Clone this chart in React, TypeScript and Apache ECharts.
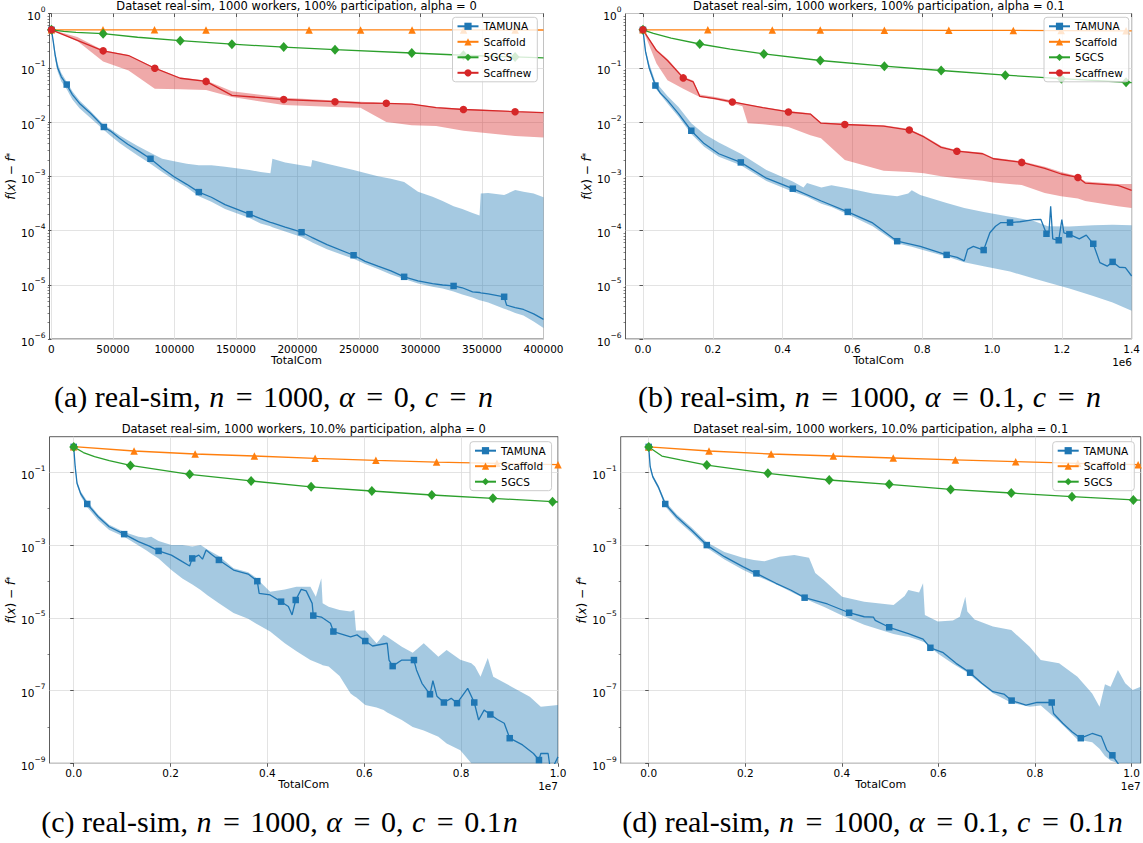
import React, { useEffect, useRef } from 'react';
import * as echarts from 'echarts';

// ---------------- Panel (a): alpha = 0, 100% participation ----------------
const aTamX = [0, 1500, 3000, 5000, 8000, 12400, 17000, 22800, 31700, 42600, 48000, 55300, 62000, 70100, 80500, 90000, 99700, 110000, 119800, 130000, 141100, 161000, 170000, 178000, 179600, 190000, 203300, 211000, 212000, 224000, 245600, 255000, 265400, 276000, 286700, 298000, 309800, 318000, 326900, 334000, 342300, 348000, 349000, 355000, 368000, 370000, 377000, 383700, 392000, 400000];
const aTamY = [5e-1, 3e-1, 1.7e-1, 1e-1, 6.8e-2, 4.9e-2, 3.2e-2, 2.2e-2, 1.45e-2, 8.1e-3, 6.8e-3, 5e-3, 3.9e-3, 3e-3, 2.1e-3, 1.4e-3, 9.8e-4, 7.1e-4, 5.1e-4, 4.1e-4, 3e-4, 2e-4, 1.66e-4, 1.41e-4, 1.38e-4, 1.15e-4, 9.3e-5, 7.6e-5, 7.4e-5, 5.5e-5, 3.5e-5, 2.7e-5, 2.2e-5, 1.8e-5, 1.4e-5, 1.18e-5, 1.05e-5, 9.9e-6, 9.5e-6, 8.8e-6, 7.4e-6, 7.2e-6, 7.1e-6, 6.8e-6, 6e-6, 4.2e-6, 3.8e-6, 3.5e-6, 2.9e-6, 2.3e-6];
const aTamMarks = [0, 5, 9, 14, 18, 21, 26, 30, 34, 38, 44];
const aTamLo = [5e-1, 2.6e-1, 1.4e-1, 8.5e-2, 5.6e-2, 4e-2, 2.6e-2, 1.8e-2, 1.18e-2, 7.1e-3, 5.6e-3, 4.1e-3, 3.2e-3, 2.4e-3, 1.7e-3, 1.2e-3, 8.5e-4, 6.2e-4, 4.3e-4, 3.4e-4, 2.5e-4, 1.7e-4, 1.35e-4, 1.2e-4, 1.15e-4, 9.55e-5, 7.6e-5, 6.2e-5, 6e-5, 4.5e-5, 3e-5, 2.4e-5, 1.95e-5, 1.55e-5, 1.28e-5, 1.05e-5, 9.2e-6, 8.5e-6, 7.5e-6, 6.6e-6, 5.8e-6, 5.2e-6, 5.1e-6, 4.7e-6, 3.6e-6, 3.5e-6, 3e-6, 2.7e-6, 2.1e-6, 1.6e-6];
const aTamHi = [5e-1, 3.3e-1, 2e-1, 1.2e-1, 8e-2, 5.5e-2, 3.7e-2, 2.5e-2, 1.6e-2, 8.8e-3, 7.4e-3, 5.7e-3, 4.6e-3, 3.6e-3, 2.7e-3, 2.1e-3, 1.9e-3, 1.7e-3, 1.6e-3, 1.6e-3, 1.5e-3, 1.3e-3, 1.2e-3, 1.13e-3, 2.1e-3, 1.8e-3, 1.6e-3, 1.5e-3, 2e-3, 1.7e-3, 1.3e-3, 1.15e-3, 1e-3, 9e-4, 7.8e-4, 5.2e-4, 4.2e-4, 3.5e-4, 2.8e-4, 2.5e-4, 2.1e-4, 1.9e-4, 4.8e-4, 4.9e-4, 4.5e-4, 4.7e-4, 5.6e-4, 5.2e-4, 4.8e-4, 4.1e-4];
const aScfX = [0, 41880, 83760, 125640, 167520, 209400, 251280, 293160, 335040, 376920, 400000];
const aScfY = [5e-1, 5e-1, 5e-1, 4.99e-1, 4.99e-1, 4.98e-1, 4.98e-1, 4.97e-1, 4.97e-1, 4.96e-1, 4.96e-1];
const aScfMarks = [0, 1, 2, 3, 5, 6, 7, 8, 9];
const aGcsX = [0, 10000, 20000, 42000, 70000, 104700, 146700, 188800, 230500, 292900, 334900, 376900, 400000];
const aGcsY = [5e-1, 4.7e-1, 4.5e-1, 4.25e-1, 3.65e-1, 3.15e-1, 2.72e-1, 2.4e-1, 2.15e-1, 1.87e-1, 1.7e-1, 1.58e-1, 1.52e-1];
const aGcsMarks = [0, 3, 5, 6, 7, 8, 9, 10, 11];
const aSnX = [0, 21000, 42000, 62700, 84000, 104700, 125700, 146700, 188800, 230500, 251200, 272200, 292900, 312700, 334900, 376900, 400000];
const aSnY = [5e-1, 3.2e-1, 2.05e-1, 1.68e-1, 9.8e-2, 6.4e-2, 5.6e-2, 3.1e-2, 2.6e-2, 2.37e-2, 2.24e-2, 2.21e-2, 2.14e-2, 1.84e-2, 1.7e-2, 1.55e-2, 1.49e-2];
const aSnMarks = [0, 2, 4, 6, 8, 9, 11, 14, 15];
const aSnLo = [5e-1, 3.1e-1, 1.3e-1, 8.9e-2, 4.1e-2, 4e-2, 3.9e-2, 2.9e-2, 2.05e-2, 1.9e-2, 1.84e-2, 1e-2, 8.7e-3, 8.4e-3, 6.9e-3, 5.5e-3, 5.2e-3];
const aSnHi = [5e-1, 3.7e-1, 2.1e-1, 1.72e-1, 1e-1, 6.6e-2, 5.8e-2, 3.7e-2, 2.8e-2, 2.5e-2, 2.35e-2, 2.25e-2, 2.18e-2, 1.9e-2, 1.75e-2, 1.58e-2, 1.52e-2];

// ---------------- Panel (b): alpha = 0.1, 100% participation ----------------
const bTamX = [0, 7300, 17800, 35700, 50000, 70300, 101800, 138500, 175300, 217300, 280300, 353700, 429300, 511100, 586700, 658000, 728300, 794400, 870000, 900000, 920400, 930000, 946600, 976000, 993800, 1010000, 1025300, 1051600, 1080000, 1119800, 1140000, 1156000, 1163000, 1168000, 1174000, 1191000, 1200000, 1206000, 1221600, 1250000, 1270000, 1290000, 1309000, 1330000, 1345500, 1365000, 1382000, 1400000];
const bTamY = [5e-1, 2e-1, 1e-1, 4.7e-2, 3.4e-2, 2.5e-2, 1.43e-2, 6.9e-3, 4e-3, 2.6e-3, 1.8e-3, 9.2e-4, 5.9e-4, 3.5e-4, 2.2e-4, 1.38e-4, 6.35e-5, 5.1e-5, 3.55e-5, 3.2e-5, 2.75e-5, 4.5e-5, 5.1e-5, 4.36e-5, 9.1e-5, 1.2e-4, 1.4e-4, 1.4e-4, 1.45e-4, 1.58e-4, 1.6e-4, 8.7e-5, 9e-5, 2.8e-4, 7e-5, 6.6e-5, 1.59e-4, 9e-5, 8.5e-5, 7e-5, 8.2e-5, 5.69e-5, 2.56e-5, 2.2e-5, 2.64e-5, 2.1e-5, 2.07e-5, 1.45e-5];
const bTamMarks = [0, 3, 7, 10, 12, 14, 16, 18, 23, 27, 31, 35, 38, 41, 44];
const bTamBandX = [0, 7300, 17800, 35700, 70300, 101800, 138500, 175300, 217300, 280300, 353700, 429300, 460000, 470000, 511100, 540000, 586700, 658000, 728300, 760000, 770000, 794400, 870000, 920400, 976000, 1051600, 1119800, 1160000, 1221600, 1290000, 1345500, 1400000];
const bTamHi = [5e-1, 2.2e-1, 1.2e-1, 5.5e-2, 3e-2, 1.9e-2, 9.5e-3, 6e-3, 4.2e-3, 2.6e-3, 1.3e-3, 8e-4, 6.2e-4, 7.5e-4, 6.2e-4, 6.8e-4, 6e-4, 4.8e-4, 4.3e-4, 4.8e-4, 5.5e-4, 4.5e-4, 3.2e-4, 2.6e-4, 2.2e-4, 1.8e-4, 1.5e-4, 1.2e-4, 1.18e-4, 1.25e-4, 1.28e-4, 1.25e-4];
const bTamLo = [5e-1, 1.8e-1, 9e-2, 4.2e-2, 2.2e-2, 1.25e-2, 6e-3, 3.5e-3, 2.3e-3, 1.6e-3, 8.2e-4, 5.2e-4, 4.4e-4, 4.2e-4, 3.1e-4, 2.7e-4, 2e-4, 1.2e-4, 5.8e-5, 5.2e-5, 5e-5, 4.5e-5, 3.3e-5, 2.6e-5, 2.2e-5, 1.75e-5, 1.3e-5, 1.1e-5, 8.5e-6, 6.2e-6, 4.7e-6, 3.3e-6];
const bScfX = [0, 185800, 370500, 508000, 691600, 876300, 1061000, 1198000, 1384000, 1400000];
const bScfY = [5e-1, 5e-1, 4.98e-1, 4.96e-1, 4.93e-1, 4.9e-1, 4.87e-1, 4.84e-1, 4.8e-1, 4.8e-1];
const bScfMarks = [0, 1, 2, 3, 4, 5, 6, 7, 8];
const bGcsX = [0, 30000, 80800, 162700, 250000, 346300, 508000, 691600, 854300, 1038000, 1198600, 1384000, 1400000];
const bGcsY = [5e-1, 4.3e-1, 3.53e-1, 2.74e-1, 2.2e-1, 1.8e-1, 1.36e-1, 1.07e-1, 8.9e-2, 7.3e-2, 6.3e-2, 5.4e-2, 5.3e-2];
const bGcsMarks = [0, 3, 5, 6, 7, 8, 9, 10, 11];
const bSnX = [0, 38800, 70300, 115400, 143800, 162700, 206800, 256000, 343200, 416700, 479600, 510000, 578300, 689500, 763000, 805000, 854300, 899400, 972900, 1004000, 1085000, 1151000, 1198000, 1246000, 1267000, 1361000, 1400000];
const bSnY = [5e-1, 2.07e-1, 1.36e-1, 6.5e-2, 5.5e-2, 2.97e-2, 2.7e-2, 2.34e-2, 1.84e-2, 1.53e-2, 1.4e-2, 9.5e-3, 9e-3, 8.4e-3, 7.1e-3, 5.3e-3, 3.4e-3, 2.9e-3, 2.6e-3, 2.1e-3, 1.8e-3, 1.4e-3, 1.1e-3, 9.5e-4, 7.5e-4, 6.8e-4, 5.5e-4];
const bSnMarks = [0, 3, 7, 9, 12, 14, 17, 20, 23];
const bSnBandX = [0, 38800, 70300, 115400, 143800, 162700, 206800, 256000, 285000, 300000, 343200, 416700, 479600, 510000, 578300, 689500, 763000, 805000, 854300, 899400, 972900, 1004000, 1085000, 1151000, 1198000, 1246000, 1267000, 1361000, 1400000];
const bSnLo = [5e-1, 1.2e-1, 5.9e-2, 4.1e-2, 3.3e-2, 2.9e-2, 2.6e-2, 2.2e-2, 1.95e-2, 9.5e-3, 9.1e-3, 8.1e-3, 5.7e-3, 5e-3, 2e-3, 1.26e-3, 1.2e-3, 1.13e-3, 1e-3, 9.2e-4, 8.3e-4, 7.7e-4, 6.9e-4, 4.9e-4, 4.3e-4, 3.9e-4, 3.5e-4, 2.8e-4, 2.6e-4];
const bSnHi = [5e-1, 2.2e-1, 1.45e-1, 6.8e-2, 5.8e-2, 3.2e-2, 2.9e-2, 2.5e-2, 2.2e-2, 2.1e-2, 1.9e-2, 1.6e-2, 1.45e-2, 9.8e-3, 9.3e-3, 8.7e-3, 7.4e-3, 5.6e-3, 3.6e-3, 3e-3, 2.7e-3, 2.2e-3, 1.9e-3, 1.5e-3, 1.2e-3, 1e-3, 8e-4, 7.2e-4, 7.2e-4];

// ---------------- Panel (c): alpha = 0, 10% participation ----------------
const cTamX = [0, 30200, 68000, 143500, 279500, 506000, 732800, 1042000, 1337000, 1563000, 1752000, 2017000, 2243000, 2394000, 2447000, 2583000, 2659000, 2734000, 2847000, 2998000, 3300000, 3602000, 3791000, 3829000, 4056000, 4282000, 4433000, 4509000, 4584000, 4698000, 4800000, 4924000, 4947000, 5113000, 5302000, 5362000, 5717000, 5850000, 6020000, 6171000, 6473000, 6511000, 6586000, 6775000, 7025000, 7078000, 7191000, 7357000, 7417000, 7500000, 7644000, 7795000, 7916000, 8135000, 8271000, 8361000, 8474000, 8603000, 8750000, 8890000, 9003000, 9268000, 9494000, 9607000, 9645000, 9796000, 9834000, 9900000, 10000000];
const cTamY = [5e-1, 1.43e-1, 5e-2, 2.6e-2, 1.35e-2, 6e-3, 3.2e-3, 2e-3, 1.24e-3, 9.4e-4, 6.9e-4, 5.3e-4, 3.5e-4, 2.66e-4, 4.3e-4, 5.3e-4, 4.1e-4, 7.3e-4, 5.5e-4, 3.9e-4, 2.06e-4, 1.6e-4, 1.02e-4, 4.71e-5, 4.26e-5, 2.78e-5, 2.04e-5, 1.2e-5, 3.09e-5, 6.07e-5, 5.5e-5, 2.5e-5, 1.15e-5, 1.05e-5, 7.1e-6, 4.2e-6, 3e-6, 3.4e-6, 2.3e-6, 1.68e-6, 2e-6, 6.9e-7, 4.7e-7, 6.9e-7, 6.9e-7, 3.7e-7, 1.58e-7, 7.9e-8, 1.86e-7, 7e-8, 4.7e-8, 6.1e-8, 4.5e-8, 1.15e-7, 4.7e-8, 1.55e-8, 2.9e-8, 2.2e-8, 1.6e-8, 1.26e-8, 4.9e-9, 3.2e-9, 1.86e-9, 1.23e-9, 1.86e-9, 1.86e-9, 8e-10, 8e-10, 1.5e-9];
const cTamMarks = [0, 4, 7, 10, 14, 19, 22, 25, 28, 32, 35, 38, 42, 44, 47, 50, 52, 54, 57, 60, 63];
const cTamBandX = [0, 30200, 68000, 143500, 279500, 506000, 732800, 1042000, 1337000, 1488000, 1600000, 1752000, 2017000, 2243000, 2450000, 2621000, 2760000, 2998000, 3300000, 3602000, 3753000, 4056000, 4358000, 4600000, 4887000, 5000000, 5113000, 5140000, 5264000, 5490000, 5717000, 5793000, 5830000, 6020000, 6254000, 6397000, 6473000, 6775000, 7000000, 7228000, 7530000, 7700000, 7983000, 8210000, 8286000, 8400000, 8550000, 8663000, 9040000, 9418000, 9645000, 10000000];
const cTamHi = [5e-1, 1.6e-1, 5.8e-2, 3e-2, 1.6e-2, 6.8e-3, 3.6e-3, 2.3e-3, 1.7e-3, 1.6e-3, 1.7e-3, 1.3e-3, 1e-3, 1e-3, 9.1e-4, 1e-3, 7.6e-4, 5e-4, 2.3e-4, 1.8e-4, 1.3e-4, 5.25e-5, 6e-5, 7.2e-5, 7.2e-5, 3.8e-5, 1.23e-4, 2.5e-5, 2e-5, 1.63e-5, 1.5e-5, 1.63e-5, 4.5e-6, 4.5e-6, 2e-6, 3.4e-6, 3e-6, 1.6e-6, 1.1e-6, 2e-6, 8.5e-7, 1.3e-6, 7e-7, 5.6e-7, 4.6e-7, 2.4e-7, 7.9e-7, 2.4e-7, 1.28e-7, 6.8e-8, 3.6e-8, 4e-8];
const cTamLo = [5e-1, 1.2e-1, 4.4e-2, 2.2e-2, 1.1e-2, 4.8e-3, 2.6e-3, 1.7e-3, 9.8e-4, 7.3e-4, 5.8e-4, 4.3e-4, 2.06e-4, 1.2e-4, 8.2e-5, 5.82e-5, 4.2e-5, 2.5e-5, 1.35e-5, 9.5e-6, 7.1e-6, 4.2e-6, 2e-6, 1.2e-6, 6.9e-7, 6e-7, 5.2e-7, 5e-7, 4.6e-7, 2.5e-7, 8.3e-8, 7e-8, 6.5e-8, 4e-8, 3.4e-8, 2.9e-8, 2.5e-8, 1.55e-8, 1e-8, 8e-9, 5.4e-9, 3.5e-9, 2.3e-9, 1e-9, 5e-10, 1e-10, 1e-10, 1e-10, 1e-10, 1e-10, 1e-10, 1e-10];
const cScfX = [0, 1246000, 2507000, 3731000, 4985000, 6239000, 7492000, 8739000, 10000000];
const cScfY = [5.08e-1, 3.86e-1, 3.19e-1, 2.81e-1, 2.43e-1, 2.14e-1, 1.92e-1, 1.77e-1, 1.62e-1];
const cScfMarks = [0, 1, 2, 3, 4, 5, 6, 7, 8];
const cGcsX = [0, 200000, 430000, 733000, 1171000, 2394000, 3663000, 4902000, 6156000, 7394000, 8656000, 9887000, 10000000];
const cGcsY = [5e-1, 3.5e-1, 2.7e-1, 2.09e-1, 1.55e-1, 8.8e-2, 5.8e-2, 4e-2, 3.07e-2, 2.38e-2, 1.93e-2, 1.56e-2, 1.53e-2];
const cGcsMarks = [0, 4, 5, 6, 7, 8, 9, 10, 11];

// ---------------- Panel (d): alpha = 0.1, 10% participation ----------------
const dTamX = [0, 30500, 83800, 198000, 342700, 578800, 883500, 1203000, 1569000, 1950000, 2231000, 2635000, 2940000, 3229000, 3701000, 4151000, 4463000, 4653000, 4692000, 4981000, 5377000, 5682000, 5834000, 6100000, 6367000, 6657000, 6900000, 7129000, 7357000, 7517000, 7814000, 8043000, 8347000, 8385000, 8576000, 8766000, 8949000, 9185000, 9375000, 9490000, 9604000, 9718000, 9870000, 10190000];
const dTamY = [5e-1, 1.43e-1, 7.6e-2, 4e-2, 1.35e-2, 6e-3, 2.6e-3, 1e-3, 4.8e-4, 2.55e-4, 1.67e-4, 8.9e-5, 5.82e-5, 3.58e-5, 2.4e-5, 1.38e-5, 1.07e-5, 1.05e-5, 8.5e-6, 5.5e-6, 3.7e-6, 2.6e-6, 1.5e-6, 1.1e-6, 5.6e-7, 3.1e-7, 1.58e-7, 9.3e-8, 8e-8, 5.3e-8, 4e-8, 4.7e-8, 4.7e-8, 2.35e-8, 1.26e-8, 7.4e-9, 4.9e-9, 6.6e-9, 5.5e-9, 2.3e-9, 1.66e-9, 1e-9, 4.3e-10, 2e-10];
const dTamMarks = [0, 4, 7, 10, 13, 15, 19, 22, 25, 29, 32, 36, 40];
const dTamBandX = [0, 30500, 83800, 198000, 342700, 578800, 883500, 1203000, 1569000, 1950000, 2178000, 2400000, 2711000, 3016000, 3321000, 3450000, 3625000, 4006000, 4463000, 5072000, 5300000, 5377000, 5600000, 5682000, 5720000, 5987000, 6300000, 6444000, 6558000, 6600000, 6748000, 7129000, 7510000, 7891000, 8120000, 8500000, 8880000, 9185000, 9337000, 9450000, 9566000, 9718000, 9870000, 10023000, 10190000];
const dTamHi = [5e-1, 1.6e-1, 8.5e-2, 4.5e-2, 1.6e-2, 7e-3, 3.1e-3, 1.2e-3, 6.5e-4, 4.5e-4, 3.9e-4, 3.6e-4, 4.8e-4, 5.3e-4, 4.5e-4, 1.7e-4, 1.1e-4, 3.8e-5, 2.78e-5, 2.24e-5, 4e-5, 5.82e-5, 5e-5, 8.9e-5, 1.2e-5, 7.9e-6, 8.5e-6, 1.07e-5, 3.8e-5, 1.5e-5, 9e-6, 5.8e-6, 4.6e-6, 1.6e-6, 6.9e-7, 5.6e-7, 2.4e-7, 8.3e-8, 3.6e-8, 1.5e-7, 1.28e-7, 3.7e-7, 1.6e-7, 1.03e-7, 1.28e-7];
const dTamLo = [5e-1, 1.2e-1, 6.8e-2, 3.5e-2, 1.15e-2, 5e-3, 2.2e-3, 8.5e-4, 4e-4, 2.1e-4, 1.5e-4, 1.15e-4, 7.5e-5, 4.7e-5, 3e-5, 2.5e-5, 2e-5, 1.15e-5, 6.5e-6, 3.6e-6, 3.1e-6, 3e-6, 2.4e-6, 2.2e-6, 2.1e-6, 1.05e-6, 5.5e-7, 4.2e-7, 3.4e-7, 3.1e-7, 2.1e-7, 8.5e-8, 4.6e-8, 3.6e-8, 3.9e-8, 1.4e-8, 4.5e-9, 3.8e-9, 2.5e-9, 1.6e-9, 1.2e-9, 8e-10, 3.5e-10, 1.5e-10, 1e-10];
const dScfX = [0, 1249000, 2536000, 3823000, 5065000, 6352000, 7601000, 8888000, 10137000, 10190000];
const dScfY = [5e-1, 3.86e-1, 3.19e-1, 2.81e-1, 2.48e-1, 2.19e-1, 1.96e-1, 1.77e-1, 1.62e-1, 1.61e-1];
const dScfMarks = [0, 1, 2, 3, 4, 5, 6, 7, 8];
const dGcsX = [0, 274000, 655000, 1203000, 2468000, 3739000, 4981000, 6253000, 7509000, 8766000, 10038000, 10190000];
const dGcsY = [5e-1, 2.8e-1, 2.19e-1, 1.58e-1, 9.4e-2, 6.16e-2, 4.68e-2, 3.4e-2, 2.7e-2, 2.14e-2, 1.74e-2, 1.72e-2];
const dGcsMarks = [0, 3, 4, 5, 6, 7, 8, 9, 10];

// ---------------- Axis ticks / texts ----------------
const aXTicks = [0, 50000, 100000, 150000, 200000, 250000, 300000, 350000, 400000];
const bXTicks = [0, 200000, 400000, 600000, 800000, 1000000, 1200000, 1400000];
const cdXTicks = [0, 2000000, 4000000, 6000000, 8000000, 10000000];
const abYTicks = [-6, -5, -4, -3, -2, -1, 0];
const cdYTicks = [-9, -7, -5, -3, -1];
const titles = [
  'Dataset real-sim, 1000 workers, 100% participation, alpha = 0',
  'Dataset real-sim, 1000 workers, 100% participation, alpha = 0.1',
  'Dataset real-sim, 1000 workers, 10.0% participation, alpha = 0',
  'Dataset real-sim, 1000 workers, 10.0% participation, alpha = 0.1',
];
const captions = [
  '(a) real-sim, {i|n} {e|=} 1000, {i|α} {e|=} 0, {i|c} {e|=} {i|n}',
  '(b) real-sim, {i|n} {e|=} 1000, {i|α} {e|=} 0.1, {i|c} {e|=} {i|n}',
  '(c) real-sim, {i|n} {e|=} 1000, {i|α} {e|=} 0, {i|c} {e|=} 0.1{i|n}',
  '(d) real-sim, {i|n} {e|=} 1000, {i|α} {e|=} 0.1, {i|c} {e|=} 0.1{i|n}',
];
const legendFull = ['TAMUNA', 'Scaffold', '5GCS', 'Scaffnew'];
const legendShort = ['TAMUNA', 'Scaffold', '5GCS'];

// ---------------- helpers ----------------
const FONT = '"DejaVu Sans", Verdana, sans-serif';
const SERIF = '"Liberation Serif", "DejaVu Serif", serif';
const COL = { tam: '#1f77b4', scf: '#ff7f0e', gcs: '#2ca02c', sn: '#d62728' };
const BANDCOL = { tam: 'rgba(31,119,180,0.4)', sn: 'rgba(214,39,40,0.4)' };
const lg = (v: number) => Math.log10(v);

type Line = { x: number[]; y: number[]; marks: number[] };
type Band = { x: number[]; lo: number[]; hi: number[] };
type Panel = {
  grid: { left: number; top: number; width: number; height: number };
  xMin: number; xMax: number; xTicks: number[]; xFmt: (v: number) => string;
  yMin: number; yMax: number; yTicks: number[]; yMinor: number[]; yNameGap: number;
  legend: string[]; legendLeft: number; legendTop: number;
  titleY: number; offset?: string;
  capX: number; capY: number;
  tam: Line; tamBand: Band; scf: Line; gcs: Line; sn?: Line; snBand?: Band;
};

const minorAB: number[] = [];
for (let e = -6; e < 0; e++) for (let k = 2; k <= 9; k++) minorAB.push(e + Math.log10(k));
const minorCD = [-8, -6, -4, -2];

const panels: Panel[] = [
  {
    grid: { left: 49.5, top: 13.5, width: 494, height: 325.5 },
    xMin: -1600, xMax: 400000, xTicks: aXTicks, xFmt: (v) => String(Math.round(v)),
    yMin: -6, yMax: 0, yTicks: abYTicks, yMinor: minorAB, yNameGap: 28,
    legend: legendFull, legendLeft: 452.5, legendTop: 17.3, titleY: 6,
    capX: 274, capY: 396,
    tam: { x: aTamX, y: aTamY, marks: aTamMarks }, tamBand: { x: aTamX, lo: aTamLo, hi: aTamHi },
    scf: { x: aScfX, y: aScfY, marks: aScfMarks }, gcs: { x: aGcsX, y: aGcsY, marks: aGcsMarks },
    sn: { x: aSnX, y: aSnY, marks: aSnMarks }, snBand: { x: aSnX, lo: aSnLo, hi: aSnHi },
  },
  {
    grid: { left: 625.5, top: 13.5, width: 506.5, height: 325.5 },
    xMin: -50000, xMax: 1400000, xTicks: bXTicks, xFmt: (v) => (v / 1e6).toFixed(1),
    yMin: -6, yMax: 0, yTicks: abYTicks, yMinor: minorAB, yNameGap: 30,
    legend: legendFull, legendLeft: 1044, legendTop: 17.3, titleY: 6, offset: '1e6',
    capX: 870, capY: 396,
    tam: { x: bTamX, y: bTamY, marks: bTamMarks }, tamBand: { x: bTamBandX, lo: bTamLo, hi: bTamHi },
    scf: { x: bScfX, y: bScfY, marks: bScfMarks }, gcs: { x: bGcsX, y: bGcsY, marks: bGcsMarks },
    sn: { x: bSnX, y: bSnY, marks: bSnMarks }, snBand: { x: bSnBandX, lo: bSnLo, hi: bSnHi },
  },
  {
    grid: { left: 49.5, top: 436.7, width: 508.5, height: 326.6 },
    xMin: -500000, xMax: 10000000, xTicks: cdXTicks, xFmt: (v) => (v / 1e7).toFixed(1),
    yMin: -9, yMax: -0.02, yTicks: cdYTicks, yMinor: minorCD, yNameGap: 28,
    legend: legendShort, legendLeft: 470, legendTop: 441.7, titleY: 429, offset: '1e7',
    capX: 280, capY: 821,
    tam: { x: cTamX, y: cTamY, marks: cTamMarks }, tamBand: { x: cTamBandX, lo: cTamLo, hi: cTamHi },
    scf: { x: cScfX, y: cScfY, marks: cScfMarks }, gcs: { x: cGcsX, y: cGcsY, marks: cGcsMarks },
  },
  {
    grid: { left: 620.7, top: 436.7, width: 520, height: 326.6 },
    xMin: -580000, xMax: 10190000, xTicks: cdXTicks, xFmt: (v) => (v / 1e7).toFixed(1),
    yMin: -9, yMax: -0.02, yTicks: cdYTicks, yMinor: minorCD, yNameGap: 25,
    legend: legendShort, legendLeft: 1052.7, legendTop: 441.7, titleY: 429, offset: '1e7',
    capX: 873, capY: 821,
    tam: { x: dTamX, y: dTamY, marks: dTamMarks }, tamBand: { x: dTamBandX, lo: dTamLo, hi: dTamHi },
    scf: { x: dScfX, y: dScfY, marks: dScfMarks }, gcs: { x: dGcsX, y: dGcsY, marks: dGcsMarks },
  },
];

function expText(v: number) {
  const e = Math.round(v);
  return e < 0 ? '\u2212' + String(-e) : String(e);
}

function lineSeries(name: string, idx: number, l: Line, color: string, symbol: string, size: any, z: number) {
  const marks = new Set(l.marks);
  return {
    type: 'line', name, xAxisIndex: idx, yAxisIndex: idx * 2, z,
    data: l.x.map((x, i) => (marks.has(i) ? { value: [x, lg(l.y[i])] } : { value: [x, lg(l.y[i])], symbol: 'none' })),
    symbol, symbolSize: size, showSymbol: true, showAllSymbol: true, clip: true,
    lineStyle: { color, width: 1.3 }, itemStyle: { color, borderWidth: 0 },
    silent: true, emphasis: { disabled: true },
  };
}

function bandSeries(name: string, idx: number, b: Band, fill: string, yMin: number, yMax: number, z: number) {
  const cl = (v: number) => Math.min(yMax, Math.max(yMin, lg(v)));
  return {
    type: 'custom', name, xAxisIndex: idx, yAxisIndex: idx * 2, silent: true, z,
    data: [[b.x[0], cl(b.hi[0])]],
    renderItem: (_params: any, api: any) => {
      const pts: number[][] = [];
      for (let k = 0; k < b.x.length; k++) pts.push(api.coord([b.x[k], cl(b.hi[k])]));
      for (let k = b.x.length - 1; k >= 0; k--) pts.push(api.coord([b.x[k], cl(b.lo[k])]));
      return { type: 'polygon', shape: { points: pts }, style: { fill, stroke: 'none' } };
    },
  };
}

function buildOption() {
  const grid: any[] = [];
  const xAxis: any[] = [];
  const yAxis: any[] = [];
  const series: any[] = [];
  const legend: any[] = [];
  const graphic: any[] = [];
  const CAP = 30;

  panels.forEach((p, i) => {
    grid.push({ ...p.grid, show: true, borderColor: '#333', borderWidth: 0.8, backgroundColor: 'transparent', containLabel: false });
    xAxis.push({
      type: 'value', gridIndex: i, min: p.xMin, max: p.xMax,
      name: 'TotalCom', nameLocation: 'middle', nameGap: 15,
      nameTextStyle: { fontSize: 11, fontFamily: FONT, color: '#000' },
      axisLine: { show: false },
      axisTick: { show: true, length: 3.5, lineStyle: { color: '#333', width: 0.8 }, customValues: p.xTicks },
      axisLabel: { show: true, customValues: p.xTicks, formatter: p.xFmt, fontSize: 10.5, fontFamily: FONT, color: '#000', margin: 4 },
      splitLine: { show: true, lineStyle: { color: '#dcdcdc', width: 0.8 } },
    });
    yAxis.push({
      type: 'value', gridIndex: i, position: 'left', min: p.yMin, max: p.yMax,
      name: '{i|f}({i|x}) \u2212 {i|f}{s|*}', nameLocation: 'middle', nameRotate: 90, nameGap: p.yNameGap,
      nameTextStyle: {
        fontSize: 12, fontFamily: FONT, color: '#000',
        rich: { i: { fontStyle: 'italic', fontSize: 12, fontFamily: FONT }, s: { fontSize: 9, fontFamily: FONT, verticalAlign: 'top', lineHeight: 9 } },
      },
      axisLine: { show: false },
      axisTick: { show: true, length: 3.5, lineStyle: { color: '#333', width: 0.8 }, customValues: p.yTicks },
      axisLabel: {
        show: true, customValues: p.yTicks, margin: 4,
        formatter: (v: number) => '{b|10}{s|' + expText(v) + '}',
        rich: {
          b: { fontSize: 10.5, fontFamily: FONT, color: '#000', lineHeight: 16, verticalAlign: 'bottom' },
          s: { fontSize: 7.5, fontFamily: FONT, color: '#000', lineHeight: 8, verticalAlign: 'top' },
        },
      },
      splitLine: { show: true, lineStyle: { color: '#dcdcdc', width: 0.8 } },
    });
    yAxis.push({
      type: 'value', gridIndex: i, position: 'left', min: p.yMin, max: p.yMax,
      axisLine: { show: false }, axisLabel: { show: false }, splitLine: { show: false },
      axisTick: { show: true, length: 2, lineStyle: { color: '#333', width: 0.6 }, customValues: p.yMinor },
    });

    series.push(bandSeries('TAMUNA band', i, p.tamBand, BANDCOL.tam, p.yMin, p.yMax, 2));
    series.push(lineSeries('TAMUNA', i, p.tam, COL.tam, 'rect', 6.5, 3));
    series.push(lineSeries('Scaffold', i, p.scf, COL.scf, 'triangle', 7.5, 3));
    series.push(lineSeries('5GCS', i, p.gcs, COL.gcs, 'diamond', [9, 10], 3));
    if (p.sn && p.snBand) {
      series.push(bandSeries('Scaffnew band', i, p.snBand, BANDCOL.sn, p.yMin, p.yMax, 3));
      series.push(lineSeries('Scaffnew', i, p.sn, COL.sn, 'circle', 7.5, 3));
    }

    legend.push({
      show: true, orient: 'vertical', left: p.legendLeft, top: p.legendTop, data: p.legend,
      itemWidth: 21, itemHeight: 9, itemGap: 3.5, selectedMode: false,
      backgroundColor: 'rgba(255,255,255,0.8)', borderColor: '#cccccc', borderWidth: 1, borderRadius: 3,
      padding: [3, 6, 3, 4],
      textStyle: { fontSize: 10.5, fontFamily: FONT, color: '#000', lineHeight: 12 },
    });

    const cx = p.grid.left + p.grid.width / 2;
    graphic.push({
      type: 'text', x: cx, y: p.titleY, silent: true,
      style: { text: titles[i], fill: '#000', fontSize: 11.5, fontFamily: FONT, align: 'center', verticalAlign: 'middle', textAlign: 'center', textVerticalAlign: 'middle' },
    });
    if (p.offset) {
      graphic.push({
        type: 'text', x: p.grid.left + p.grid.width, y: p.grid.top + p.grid.height + 23, silent: true,
        style: { text: p.offset, fill: '#000', fontSize: 10.5, fontFamily: FONT, align: 'right', verticalAlign: 'middle', textAlign: 'right', textVerticalAlign: 'middle' },
      });
    }
    graphic.push({
      type: 'text', x: p.capX, y: p.capY, silent: true,
      style: {
        text: captions[i], fill: '#000', fontSize: CAP, fontFamily: SERIF,
        align: 'center', verticalAlign: 'middle', textAlign: 'center', textVerticalAlign: 'middle',
        rich: {
          i: { fontStyle: 'italic', fontSize: CAP, fontFamily: SERIF, fill: '#000', padding: [0, 1, 0, 1] },
          e: { fontSize: CAP, fontFamily: SERIF, fill: '#000', padding: [0, 3, 0, 3] },
        },
      },
    });
  });

  return { animation: false, backgroundColor: '#ffffff', grid, xAxis, yAxis, series, legend, graphic };
}

export default function App() {
  const ref = useRef<HTMLDivElement>(null);
  useEffect(() => {
    document.body.style.margin = '0';
    const chart = echarts.init(ref.current as HTMLDivElement, null, { renderer: 'svg' });
    chart.setOption(buildOption() as any);
    return () => chart.dispose();
  }, []);
  return <div ref={ref} style={{ width: 1143, height: 843, background: '#fff' }} />;
}
